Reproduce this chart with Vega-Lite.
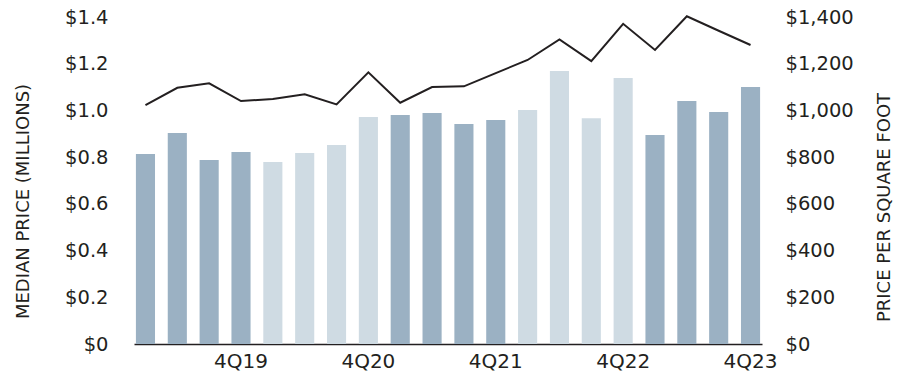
{
  "$schema": "https://vega.github.io/schema/vega-lite/v6.json",
  "width": 628,
  "height": 327,
  "autosize": {"type": "none"},
  "padding": {"left": 134, "top": 17, "right": 145, "bottom": 30},
  "background": "white",
  "config": {
    "view": {"stroke": null},
    "font": "DejaVu Sans",
    "axis": {"labelFont": "DejaVu Sans", "titleFont": "DejaVu Sans", "labelColor": "#231f20", "titleColor": "#231f20", "grid": false, "ticks": false}
  },
  "data": {
    "values": [
      {"q": "1Q19", "year": "2019", "median": 0.813, "ppsf": 1023},
      {"q": "2Q19", "year": "2019", "median": 0.903, "ppsf": 1097},
      {"q": "3Q19", "year": "2019", "median": 0.788, "ppsf": 1116},
      {"q": "4Q19", "year": "2019", "median": 0.822, "ppsf": 1040},
      {"q": "1Q20", "year": "2020", "median": 0.779, "ppsf": 1049},
      {"q": "2Q20", "year": "2020", "median": 0.818, "ppsf": 1069},
      {"q": "3Q20", "year": "2020", "median": 0.852, "ppsf": 1026},
      {"q": "4Q20", "year": "2020", "median": 0.972, "ppsf": 1163},
      {"q": "1Q21", "year": "2021", "median": 0.98, "ppsf": 1033},
      {"q": "2Q21", "year": "2021", "median": 0.989, "ppsf": 1100},
      {"q": "3Q21", "year": "2021", "median": 0.942, "ppsf": 1103},
      {"q": "4Q21", "year": "2021", "median": 0.959, "ppsf": 1160},
      {"q": "1Q22", "year": "2022", "median": 1.002, "ppsf": 1216},
      {"q": "2Q22", "year": "2022", "median": 1.169, "ppsf": 1304},
      {"q": "3Q22", "year": "2022", "median": 0.967, "ppsf": 1211},
      {"q": "4Q22", "year": "2022", "median": 1.139, "ppsf": 1371},
      {"q": "1Q23", "year": "2023", "median": 0.895, "ppsf": 1259},
      {"q": "2Q23", "year": "2023", "median": 1.04, "ppsf": 1403},
      {"q": "3Q23", "year": "2023", "median": 0.993, "ppsf": 1341},
      {"q": "4Q23", "year": "2023", "median": 1.1, "ppsf": 1280}
    ]
  },
  "encoding": {
    "x": {
      "field": "q", "type": "ordinal", "sort": null,
      "scale": {"paddingInner": 0.4, "paddingOuter": 0.06},
      "axis": {
        "title": null, "labelAngle": 0, "labelFontSize": 20, "labelPadding": 7,
        "domainColor": "#231f20", "domainWidth": 1.5,
        "labelExpr": "substring(datum.value, 0, 2) == '4Q' ? datum.value : ''"
      }
    }
  },
  "layer": [
    {
      "mark": {"type": "bar"},
      "encoding": {
        "y": {
          "field": "median", "type": "quantitative",
          "scale": {"domain": [0, 1.4]},
          "axis": {
            "title": "MEDIAN PRICE (MILLIONS)", "titleFontSize": 18, "titleFontWeight": "normal",
            "titlePadding": 32, "titleY": 184, "labelFontSize": 19.5, "labelPadding": 26, "domain": false,
            "values": [0, 0.2, 0.4, 0.6, 0.8, 1.0, 1.2, 1.4],
            "labelExpr": "datum.value == 0 ? '$0' : '$' + format(datum.value, '.1f')"
          }
        },
        "color": {
          "field": "year", "type": "nominal",
          "scale": {"domain": ["2019", "2020", "2021", "2022", "2023"], "range": ["#9bb1c3", "#cfdbe3", "#9bb1c3", "#cfdbe3", "#9bb1c3"]},
          "legend": null
        }
      }
    },
    {
      "mark": {"type": "line", "color": "#231f20", "strokeWidth": 2},
      "encoding": {
        "y": {
          "field": "ppsf", "type": "quantitative",
          "scale": {"domain": [0, 1400]},
          "axis": {
            "orient": "right", "title": "PRICE PER SQUARE FOOT", "titleFontSize": 18, "titleFontWeight": "normal",
            "titleAngle": 270, "titleBaseline": "top", "titlePadding": 22, "titleY": 190, "labelFontSize": 19.5, "labelPadding": 23, "domain": false,
            "values": [0, 200, 400, 600, 800, 1000, 1200, 1400],
            "labelExpr": "'$' + format(datum.value, ',')"
          }
        }
      }
    }
  ],
  "resolve": {"scale": {"y": "independent"}}
}
